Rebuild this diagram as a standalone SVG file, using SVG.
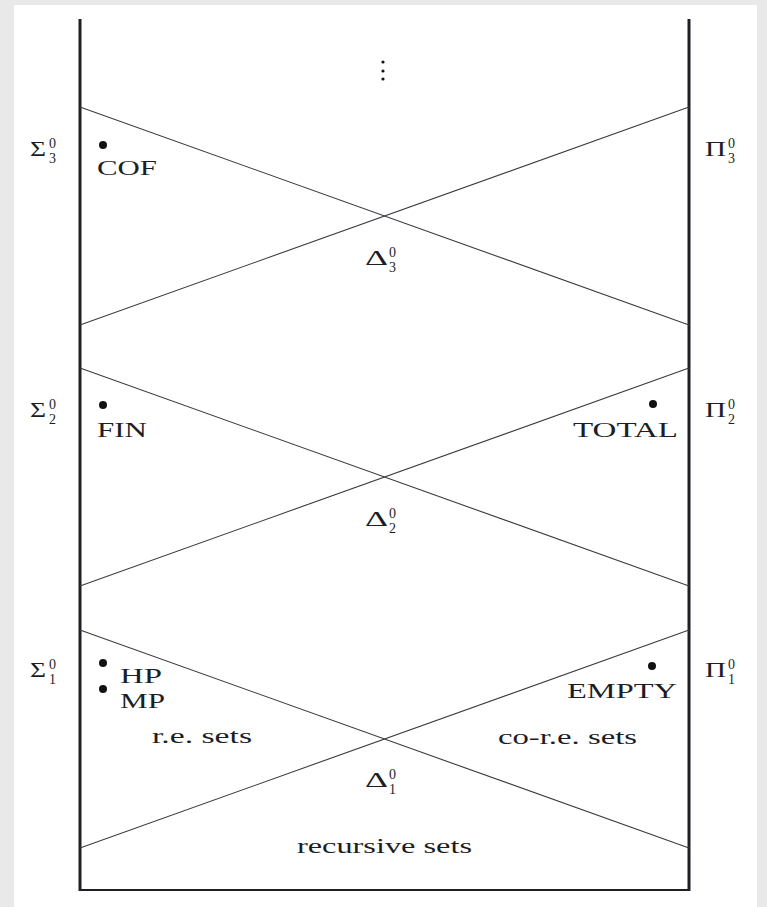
<svg xmlns="http://www.w3.org/2000/svg" width="767" height="907" viewBox="0 0 767 907">
  <style>
    .frame { stroke: #1e2024; stroke-width: 3; fill: none; }
    .base { stroke: #1e2024; stroke-width: 2; fill: none; }
    .diag { stroke: #3a3c44; stroke-width: 1.1; fill: none; }
    text { font-family: "Liberation Serif", "DejaVu Serif", serif; fill: #1c1e26; }
    .lbl { font-size: 21px; }
    .big { font-size: 22px; }
    .idx { font-size: 14px; }
    .bullet { fill: #111; }
  </style>

  <!-- page -->
  <rect x="0" y="0" width="767" height="907" fill="#e9e9e9"/>
  <rect x="14" y="5" width="743" height="902" fill="#ffffff"/>

  <!-- hierarchy frame and crossing diagonals -->
  <g id="connectors">
    <line class="frame" x1="80" y1="19" x2="80" y2="891"/>
    <line class="frame" x1="689" y1="19" x2="689" y2="891"/>
    <line class="base" x1="79" y1="890" x2="690" y2="890"/>

    <line class="diag" x1="80" y1="107" x2="689" y2="325"/>
    <line class="diag" x1="80" y1="325" x2="689" y2="107"/>

    <line class="diag" x1="80" y1="368" x2="689" y2="586"/>
    <line class="diag" x1="80" y1="586" x2="689" y2="368"/>

    <line class="diag" x1="80" y1="630" x2="689" y2="848"/>
    <line class="diag" x1="80" y1="848" x2="689" y2="630"/>
  </g>

  <!-- vertical ellipsis -->
  <g id="ellipsis" class="bullet">
    <circle cx="383" cy="62" r="1.6"/>
    <circle cx="383" cy="71" r="1.6"/>
    <circle cx="383" cy="79" r="1.6"/>
  </g>

  <!-- level 3 -->
  <g id="sigma3">
    <text class="big" x="30" y="156" textLength="16" lengthAdjust="spacingAndGlyphs">Σ</text>
    <text class="idx" x="49" y="148">0</text>
    <text class="idx" x="49" y="163">3</text>
  </g>
  <g id="pi3">
    <text class="big" x="705" y="156" textLength="21" lengthAdjust="spacingAndGlyphs">Π</text>
    <text class="idx" x="728" y="148">0</text>
    <text class="idx" x="728" y="163">3</text>
  </g>
  <g id="delta3">
    <text class="big" x="365" y="265" textLength="23" lengthAdjust="spacingAndGlyphs">Δ</text>
    <text class="idx" x="389" y="257">0</text>
    <text class="idx" x="389" y="272">3</text>
  </g>
  <g id="cof">
    <circle class="bullet" cx="103" cy="145" r="4"/>
    <text class="lbl" x="97" y="175" textLength="60" lengthAdjust="spacingAndGlyphs">COF</text>
  </g>

  <!-- level 2 -->
  <g id="sigma2">
    <text class="big" x="30" y="417" textLength="16" lengthAdjust="spacingAndGlyphs">Σ</text>
    <text class="idx" x="49" y="409">0</text>
    <text class="idx" x="49" y="424">2</text>
  </g>
  <g id="pi2">
    <text class="big" x="705" y="417" textLength="21" lengthAdjust="spacingAndGlyphs">Π</text>
    <text class="idx" x="728" y="409">0</text>
    <text class="idx" x="728" y="424">2</text>
  </g>
  <g id="delta2">
    <text class="big" x="365" y="526" textLength="23" lengthAdjust="spacingAndGlyphs">Δ</text>
    <text class="idx" x="389" y="518">0</text>
    <text class="idx" x="389" y="533">2</text>
  </g>
  <g id="fin">
    <circle class="bullet" cx="103" cy="405" r="4"/>
    <text class="lbl" x="97" y="437" textLength="50" lengthAdjust="spacingAndGlyphs">FIN</text>
  </g>
  <g id="total">
    <circle class="bullet" cx="653" cy="404" r="4"/>
    <text class="lbl" x="573" y="437" textLength="105" lengthAdjust="spacingAndGlyphs">TOTAL</text>
  </g>

  <!-- level 1 -->
  <g id="sigma1">
    <text class="big" x="30" y="677" textLength="16" lengthAdjust="spacingAndGlyphs">Σ</text>
    <text class="idx" x="49" y="669">0</text>
    <text class="idx" x="49" y="684">1</text>
  </g>
  <g id="pi1">
    <text class="big" x="705" y="677" textLength="21" lengthAdjust="spacingAndGlyphs">Π</text>
    <text class="idx" x="728" y="669">0</text>
    <text class="idx" x="728" y="684">1</text>
  </g>
  <g id="delta1">
    <text class="big" x="365" y="787" textLength="23" lengthAdjust="spacingAndGlyphs">Δ</text>
    <text class="idx" x="389" y="779">0</text>
    <text class="idx" x="389" y="794">1</text>
  </g>
  <g id="hp">
    <circle class="bullet" cx="103" cy="663" r="4"/>
    <text class="lbl" x="120" y="683" textLength="42" lengthAdjust="spacingAndGlyphs">HP</text>
  </g>
  <g id="mp">
    <circle class="bullet" cx="103" cy="689" r="4"/>
    <text class="lbl" x="120" y="708" textLength="45" lengthAdjust="spacingAndGlyphs">MP</text>
  </g>
  <g id="empty">
    <circle class="bullet" cx="652" cy="666" r="4"/>
    <text class="lbl" x="567" y="698" textLength="110" lengthAdjust="spacingAndGlyphs">EMPTY</text>
  </g>
  <g id="re-sets">
    <text class="lbl" x="152" y="743" textLength="100" lengthAdjust="spacingAndGlyphs">r.e. sets</text>
  </g>
  <g id="co-re-sets">
    <text class="lbl" x="498" y="744" textLength="139" lengthAdjust="spacingAndGlyphs">co-r.e. sets</text>
  </g>
  <g id="recursive-sets">
    <text class="lbl" x="297" y="853" textLength="175" lengthAdjust="spacingAndGlyphs">recursive sets</text>
  </g>
</svg>
